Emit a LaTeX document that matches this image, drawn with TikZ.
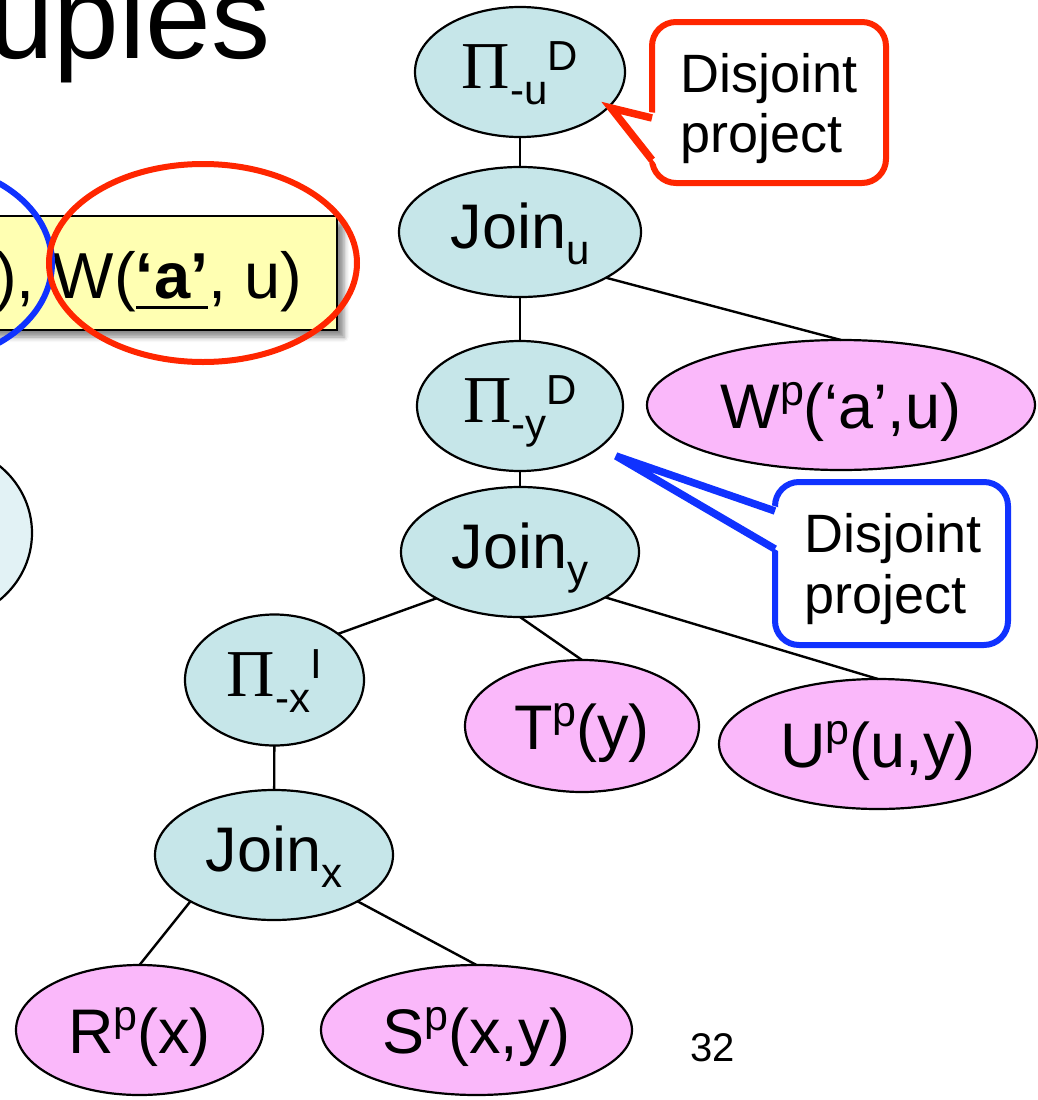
\documentclass[tikz,border=0pt]{standalone}
\usepackage{fontspec}
\setmainfont{Liberation Sans}
\newfontfamily\pifont{Liberation Serif}
\usetikzlibrary{shapes.geometric,shadows.blur}
\definecolor{nodecyan}{RGB}{198,230,233}
\definecolor{nodepink}{RGB}{250,184,250}
\definecolor{calred}{RGB}{255,38,0}
\definecolor{calblue}{RGB}{16,50,255}
\definecolor{boxyellow}{RGB}{255,255,178}
\definecolor{paleblue}{RGB}{226,242,245}
\newcommand{\mainsz}{\fontsize{63}{70}\selectfont}
\newcommand{\scrsz}{\fontsize{42}{46}\selectfont}
\newcommand{\psz}{\fontsize{43}{47}\selectfont}
\newcommand{\lowr}[1]{\raisebox{-16pt}{\scrsz #1}}
\newcommand{\highr}[1]{\raisebox{18pt}{\scrsz #1}}
\newcommand{\supp}{\raisebox{23pt}{\psz p}}
\newcommand{\bigpi}{{\pifont\fontsize{67}{70}\selectfont Π}}
\newcommand{\ulbox}[1]{\setbox0\hbox{#1}\rlap{\rule[-10.5pt]{\wd0}{3pt}}\box0}
\tikzset{
  basenode/.style={ellipse, draw=black, line width=2.2pt, inner sep=0pt, outer sep=0pt, font=\mainsz, text depth=0pt},
  opnode/.style={basenode, fill=nodecyan, text height=32pt},
  relnode/.style={basenode, fill=nodepink, text height=46pt},
  conn/.style={line width=2.4pt, black},
  ring/.style={ellipse, draw=#1, line width=6pt, inner sep=0pt},
  callbox/.style={line width=6pt, fill=white, rounded corners=24pt},
  pointer/.style={line width=7.5pt},
  calltext/.style={anchor=base west, inner sep=0pt, font=\fontsize{54}{60}\selectfont},
  plain/.style={anchor=base west, inner sep=0pt}
}
\begin{document}
\begin{tikzpicture}[x=1pt,y=-1pt]
\useasboundingbox (0,0) rectangle (1038,1100);
\clip (0,0) rectangle (1038,1100);
% title fragment
\node[plain, font=\fontsize{118}{120}\selectfont] (title) at (-12,58) {uples};
% yellow formula box
\node[rectangle, draw=black, line width=1.5pt, fill=boxyellow, minimum width=397pt, minimum height=114pt, inner sep=0pt,
      blur shadow={shadow xshift=7pt, shadow yshift=-7pt, shadow blur radius=5pt, shadow opacity=45}] (ybox) at (138.5,273) {};
\node[plain, font=\fontsize{65}{70}\selectfont] (ytext) at (-5,298) {), W(\ulbox{\textbf{‘a’}}, u)};
\node[ring=calblue, minimum width=260pt, minimum height=198pt] (bluering) at (-78,263) {};
\node[ring=calred, minimum width=308pt, minimum height=198pt] (redring) at (203,263) {};
% partially visible left node
\node[ellipse, draw=black, line width=2.2pt, fill=paleblue, minimum width=184pt, minimum height=176pt, inner sep=0pt] (leftnode) at (-60,533) {};
% tree nodes
\node[opnode, minimum width=210pt, minimum height=130pt] (pud) at (520,72) {\bigpi\lowr{-u}\highr{D}};
\node[opnode, minimum width=242pt, minimum height=130pt] (ju) at (520,232) {Join\lowr{u}};
\node[opnode, minimum width=206pt, minimum height=130pt] (pyd) at (520,406) {\bigpi\lowr{-y}\highr{D}};
\node[relnode, minimum width=388pt, minimum height=130pt] (wp) at (841,405) {W\supp(‘a’,u)};
\node[opnode, minimum width=238pt, minimum height=130pt] (jy) at (520,552) {Join\lowr{y}};
\node[opnode, minimum width=179pt, minimum height=131pt] (pxi) at (274.5,680) {\bigpi\lowr{-x}\highr{I}};
\node[relnode, minimum width=234pt, minimum height=132pt] (tp) at (582,726) {T\supp(y)};
\node[relnode, minimum width=318pt, minimum height=130pt] (up) at (878,744) {U\supp(u,y)};
\node[opnode, minimum width=238pt, minimum height=130pt] (jx) at (274,855) {Join\lowr{x}};
\node[relnode, minimum width=247pt, minimum height=130pt] (rp) at (139.5,1030) {R\supp(x)};
\node[relnode, minimum width=311pt, minimum height=130pt] (sp) at (476.5,1030) {S\supp(x,y)};
% connectors
\draw[conn] (pud) -- (ju);
\draw[conn] (ju) -- (pyd);
\draw[conn] (ju.-28) -- (wp.north);
\draw[conn] (pyd) -- (jy);
\draw[conn] (jy.-151) -- (pxi.36);
\draw[conn] (jy.south) -- (tp.north);
\draw[conn] (jy.-28) -- (up.north);
\draw[conn] (pxi) -- (jx);
\draw[conn] (jx.-151) -- (rp.north);
\draw[conn] (jx.-29) -- (sp.north);
% red callout
\draw[calred, callbox] (652,22) rectangle (886,183);
\fill[white] (611,108) -- (657,113) -- (657,165) -- cycle;
\draw[calred, pointer, line join=miter] (652,118) -- (611,108) -- (652,160);
\node[calltext] (rt1) at (680,92) {Disjoint};
\node[calltext] (rt2) at (680,152) {project};
% blue callout
\draw[calblue, callbox] (775,482) rectangle (1008,645);
\fill[white] (616,456) -- (780,508) -- (780,552) -- cycle;
\draw[calblue, pointer] (775,511) -- (616,456) -- (775,549);
\node[calltext] (bt1) at (804,552) {Disjoint};
\node[calltext] (bt2) at (804,613) {project};
% page number
\node[plain, font=\fontsize{40}{44}\selectfont] (pg) at (690,1061) {32};
\end{tikzpicture}
\end{document}
